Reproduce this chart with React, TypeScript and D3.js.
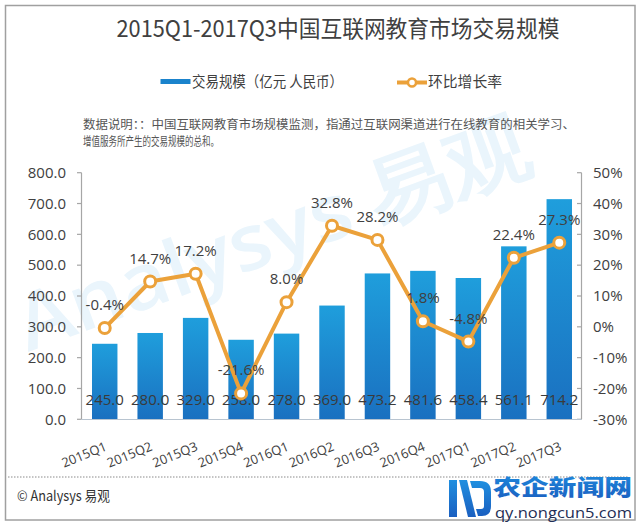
import React from 'react';
import * as d3 from 'd3';

const categories = ['2015Q1', '2015Q2', '2015Q3', '2015Q4', '2016Q1', '2016Q2', '2016Q3', '2016Q4', '2017Q1', '2017Q2', '2017Q3'];
const volumes = [245.0, 280.0, 329.0, 258.0, 278.0, 369.0, 473.2, 481.6, 458.4, 561.1, 714.2];
const growth = [-0.4, 14.7, 17.2, -21.6, 8.0, 32.8, 28.2, 1.8, -4.8, 22.4, 27.3];
const leftTicks = [0, 100, 200, 300, 400, 500, 600, 700, 800];
const rightTicks = [-30, -20, -10, 0, 10, 20, 30, 40, 50];
const titleText = '2015Q1-2017Q3中国互联网教育市场交易规模';
const legendLabels = ['交易规模（亿元 人民币）', '环比增长率'];
const noteLines = [
  '数据说明：：中国互联网教育市场规模监测，指通过互联网渠道进行在线教育的相关学习、',
  '增值服务所产生的交易规模的总和。',
];
const footerText = '© Analysys 易观';
const watermarkText = 'Analysys 易观';
const logoText = ['农企新闻网', 'qy.nongcun5.com'];

const CJK = '"Noto Sans CJK SC", "Noto Sans", sans-serif';
const NUM = '"Open Sans", "Noto Sans", sans-serif';
const ORANGE = '#eba13a';
const TXT = '#404040';

const fmt1 = d3.formatLocale({ decimal: '.', thousands: ',', grouping: [3], currency: ['', ''], minus: '-' }).format('.1f');

export default function App() {
  const W = 640;
  const H = 526;
  const plotL = 82;
  const plotR = 582;
  const plotT = 172.7;
  const plotB = 419.3;

  const x = d3.scaleBand<string>().domain(categories).range([plotL, plotR]).paddingInner(0.44).paddingOuter(0.22);
  const yL = d3.scaleLinear().domain([0, 800]).range([plotB, plotT]);
  const yR = d3.scaleLinear().domain([-30, 50]).range([plotB, plotT]);
  const cx = (c: string) => (x(c) as number) + x.bandwidth() / 2;

  const pts = categories.map((c, i) => [cx(c), yR(growth[i])] as [number, number]);
  const linePath = d3.line()(pts) || '';

  return (
    <svg width={W} height={H} style={{ position: 'absolute', left: 0, top: 0, background: '#fff' }}>
      <defs>
        <linearGradient id="barGrad" x1="0" y1="0" x2="0" y2="1">
          <stop offset="0%" stopColor="#1f9edc" />
          <stop offset="100%" stopColor="#1a70c0" />
        </linearGradient>
        <linearGradient id="logoGrad" x1="0" y1="0" x2="0" y2="1">
          <stop offset="0%" stopColor="#1f8fe0" />
          <stop offset="100%" stopColor="#1a5fc0" />
        </linearGradient>
      </defs>
      <rect x={0} y={0} width={W} height={H} fill="#fff" />
      {/* frame */}
      <rect x={5.5} y={5.5} width={629.5} height={514.5} fill="none" stroke="#a0a0a0" strokeWidth={1.5} />

      {/* watermark */}
      <text
        transform="translate(28,352) rotate(-20)"
        fontFamily={NUM}
        fontSize={78}
        fontWeight={600}
        fill="#eaf5fc"
        textLength={540}
        lengthAdjust="spacingAndGlyphs"
      >
        {watermarkText}
      </text>

      {/* title */}
      <text x={338} y={37} textAnchor="middle" fontFamily={CJK} fontSize={23} fill={TXT} textLength={443} lengthAdjust="spacingAndGlyphs">
        {titleText}
      </text>

      {/* legend */}
      <rect x={160.5} y={79} width={30} height={5} fill="#1a83cc" />
      <text x={192} y={86.5} fontFamily={CJK} fontSize={15} fill={TXT} textLength={151} lengthAdjust="spacingAndGlyphs">
        {legendLabels[0]}
      </text>
      <line x1={397} x2={427} y1={82.5} y2={82.5} stroke={ORANGE} strokeWidth={4} />
      <circle cx={412} cy={82.5} r={4} fill="#fff" stroke={ORANGE} strokeWidth={2.5} />
      <text x={428} y={86.5} fontFamily={CJK} fontSize={15} fill={TXT} textLength={74} lengthAdjust="spacingAndGlyphs">
        {legendLabels[1]}
      </text>

      {/* note */}
      <text x={83} y={129} fontFamily={CJK} fontSize={12} fill="#555" textLength={492} lengthAdjust="spacingAndGlyphs">
        {noteLines[0]}
      </text>
      <text x={83} y={146} fontFamily={CJK} fontSize={12} fill="#555" textLength={136} lengthAdjust="spacingAndGlyphs">
        {noteLines[1]}
      </text>

      {/* bars */}
      {categories.map((c, i) => (
        <rect
          key={c}
          x={x(c)}
          y={yL(volumes[i])}
          width={x.bandwidth()}
          height={plotB - yL(volumes[i])}
          fill="url(#barGrad)"
        />
      ))}

      {/* axes */}
      <line x1={81.5} x2={81.5} y1={plotT} y2={plotB} stroke="#a6a6a6" strokeWidth={1.2} />
      {leftTicks.map((t) => (
        <g key={'l' + t}>
          <line x1={77} x2={81.5} y1={yL(t)} y2={yL(t)} stroke="#a6a6a6" strokeWidth={1.2} />
          <text x={66} y={yL(t)} dy="0.35em" textAnchor="end" fontFamily={NUM} fontSize={15} fill={TXT}>
            {fmt1(t)}
          </text>
        </g>
      ))}
      <line x1={581.5} x2={581.5} y1={plotT} y2={plotB} stroke="#a6a6a6" strokeWidth={1.2} />
      {rightTicks.map((t) => (
        <g key={'r' + t}>
          <line x1={577} x2={581.5} y1={yR(t)} y2={yR(t)} stroke="#a6a6a6" strokeWidth={1.2} />
          <text x={593} y={yR(t)} dy="0.35em" textAnchor="start" fontFamily={NUM} fontSize={15} fill={TXT}>
            {t + '%'}
          </text>
        </g>
      ))}
      <line x1={81.5} x2={581.5} y1={419.5} y2={419.5} stroke="#b8c4d0" strokeWidth={1.2} />

      {/* x labels */}
      {categories.map((c) => (
        <text
          key={'x' + c}
          transform={`translate(${cx(c) + 3},${450}) rotate(-22)`}
          textAnchor="end"
          fontFamily={NUM}
          fontSize={13}
          fill={TXT}
        >
          {c}
        </text>
      ))}

      {/* bar value labels */}
      {categories.map((c, i) => (
        <text key={'v' + c} x={cx(c)} y={405} textAnchor="middle" fontFamily={NUM} fontSize={15} fill="#3a3a3a">
          {fmt1(volumes[i])}
        </text>
      ))}

      {/* growth line */}
      <path d={linePath} fill="none" stroke={ORANGE} strokeWidth={4} strokeLinejoin="round" />
      {pts.map((p, i) => (
        <circle key={'p' + i} cx={p[0]} cy={p[1]} r={5.5} fill="#fff" stroke={ORANGE} strokeWidth={3} />
      ))}
      {pts.map((p, i) => (
        <text key={'g' + i} x={p[0]} y={p[1] - 18} textAnchor="middle" fontFamily={NUM} fontSize={15} fill={TXT}>
          {fmt1(growth[i]) + '%'}
        </text>
      ))}

      {/* footer */}
      <line x1={8} x2={628} y1={477} y2={477} stroke="#8a8a8a" strokeWidth={1} strokeDasharray="1.5,1.5" />
      <text x={17} y={501} fontFamily={CJK} fontSize={14} fill="#333" textLength={93} lengthAdjust="spacingAndGlyphs">
        {footerText}
      </text>

      {/* site logo */}
      <g>
        <path d="M449,480 L457,480 L457,517 L449,517 Z" fill="url(#logoGrad)" />
        <path d="M459,480 L467,480 L476,517 L468,517 Z" fill="url(#logoGrad)" />
        <path d="M470,481 L480,481 Q491,481 491,492 L491,506 Q491,516 482,516 L478,516 L476,509 L481,509 Q484,509 484,506 L484,492 Q484,488 480,488 L472,488 Z" fill="url(#logoGrad)" />
        <text x={493} y={495} fontFamily={CJK} fontSize={22} fontWeight={900} fill="url(#logoGrad)" textLength={139} lengthAdjust="spacingAndGlyphs">
          {logoText[0]}
        </text>
        <text x={495} y={518} fontFamily={NUM} fontSize={14} fill="#1e2e55" textLength={137} lengthAdjust="spacingAndGlyphs">
          {logoText[1]}
        </text>
      </g>
    </svg>
  );
}
